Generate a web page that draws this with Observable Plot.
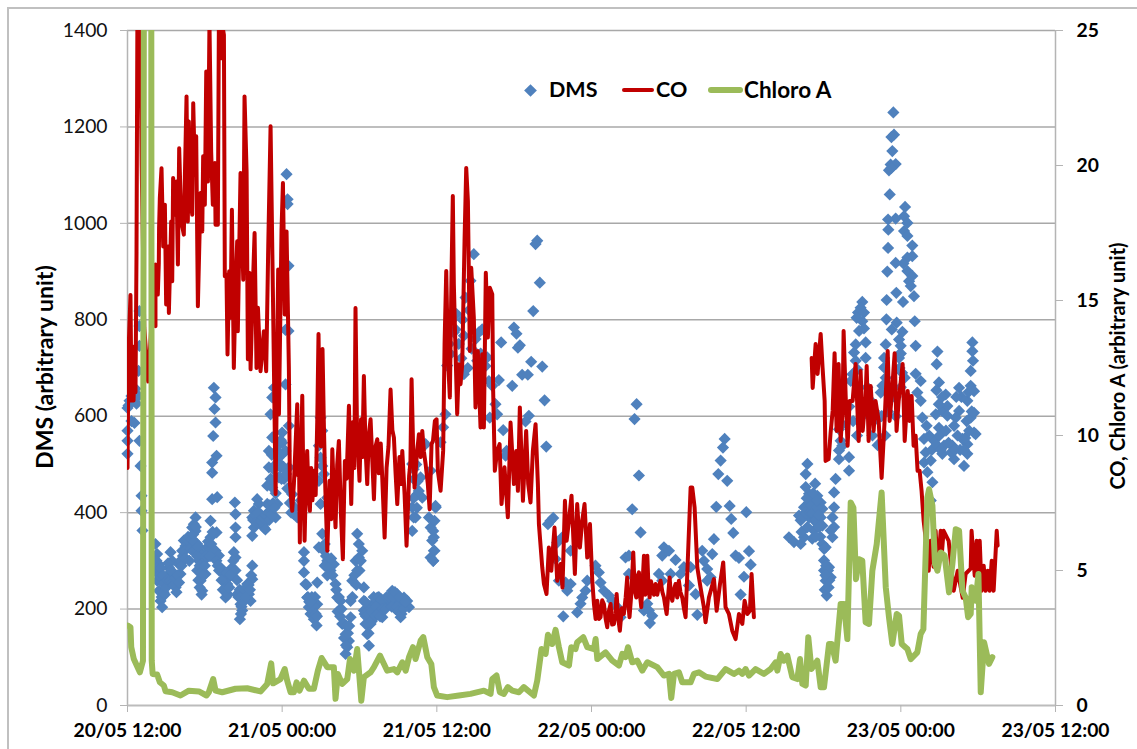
<!DOCTYPE html>
<html><head><meta charset="utf-8">
<script src="https://cdn.jsdelivr.net/npm/d3@7"></script>
<script src="https://cdn.jsdelivr.net/npm/@observablehq/plot@0.6"></script>
<style>
html,body{margin:0;padding:0;background:#fff;overflow:hidden}
#wrap{position:relative;width:1137px;height:749px;font-family:Lato,"Open Sans",sans-serif;color:#000}
#frame{position:absolute;left:7px;top:7px;right:-5px;bottom:-5px;border-left:2px solid #c0c0c0;border-top:2px solid #c0c0c0}
#chart{position:absolute;left:0;top:0}
.t{position:absolute;white-space:nowrap;font-weight:700}
.rot{transform:translate(-50%,-50%) rotate(-90deg)}
.sw{position:absolute;border-radius:3px}
</style></head><body>
<div id="wrap"><div id="frame"></div><div id="chart"></div></div>
<script>
// x values: hours after 20/05 12:00
const xTickHours=[0,12,24,36,48,60,72];
const xTickLabels=["20/05 12:00","21/05 00:00","21/05 12:00","22/05 00:00","22/05 12:00","23/05 00:00","23/05 12:00"];
const leftTicks=[0,200,400,600,800,1000,1200,1400];
const rightTicks=[0,5,10,15,20,25];
const dmsMax=1400, coMax=25;

const dmsReadings=[[0,522],[0,549],[0,570],[0,617],[.08,622],[.16,632],[.31,642],[.47,653],[.62,657],[.31,590],[.54,586],[.7,626],[.85,642],[.85,694],[.93,746],[.93,787],[.93,818],[.93,549],[1.01,497],[1.09,435],[1.09,404],[1.16,363],
[2.17,335],[2.3,314],[2.43,293],[2.17,280],[2.3,259],[2.56,259],[2.69,238],[2.56,217],[2.69,204],[2.82,252],[2.43,238],
[2.95,266],[3.21,286],[3.34,318],[3.47,300],[3.21,273],[3.6,273],[3.86,252],[4.11,273],[3.73,245],[3.98,293],[4.24,321],[4.37,342],[4.5,331],[4.76,328],[4.89,349],[5.02,369],[5.28,390],[5.15,376],[5.28,362],[5.41,335],[5.67,318],
[5.54,300],[5.41,280],[5.67,259],[5.8,238],[6.05,273],[5.92,300],[6.18,328],[6.44,349],[6.31,321],[6.83,321],[7.09,311],[7.22,286],[7.48,273],[7.74,252],[7.61,224],[7.87,266],[8.12,286],[8.38,280],
[6.7,659],[6.83,639],[6.75,615],[6.83,587],[6.65,559],[6.91,518],[6.57,504],[6.57,483],[6.57,428],[6.96,432],[6.44,383],[6.91,359],
[8.51,231],[8.9,238],[9.29,252],[9.68,262],[9.42,231],[9.55,217],[8.77,210],[8.9,197],[8.72,179],[9.68,290],[8.38,307],[8.25,318],[8.38,349],[8.38,369],[8.38,397],[8.33,421],
[9.68,352],[9.81,369],[9.68,390],[9.81,404],[10.06,428],[10.19,418],[10.32,397],[10.58,369],[10.84,383],[11.1,404],[11.49,390],[10.84,418],[11.62,418],[11.23,452],[10.84,456],[10.97,494],[11.75,473],[11.87,494],[12,521],[11.75,542],[12,566],[12.52,580],[12,545],[12.26,528],[12.52,494],[12.78,438],[12.91,397],[13.17,390],[10.97,528],[11.23,556],[11.1,604],[11.23,639],[11.36,659],[12.26,666],[13.43,425],
[12.34,1102],[12.42,1050],[12.42,1040],[12.49,912],[12.26,779],[12.49,777],
[13.69,318],[13.69,300],[13.69,276],[13.81,252],[13.94,224],[14.07,204],[14.2,190],[14.46,179],[14.67,166],[14.72,210],[14.72,255],[14.85,328],[15.11,356],[15.24,321],[15.5,300],[15.75,280],[16.01,293],[16.14,252],[16.27,224],[16.4,197],[16.66,169],[16.92,148],[17.18,134],[16.92,107],[17.05,121],[17.31,183],[17.31,217],[17.44,259],[17.82,280],[17.95,307],[18.21,321],[17.82,356],[17.95,335],[18.34,245],[18.34,217],[18.6,197],[18.86,169],[18.6,148],[18.73,124],[19.12,190],[19.38,224],[19.77,183],[19.9,210],[20.54,238],[20.15,210],[20.93,231],[21.19,183],[21.32,210],[21.7,217],[21.84,204],[20.67,217],[19.51,197],[18.99,210],[16.53,217],[18.34,197],[18.47,169],[18.86,197],[19.25,210],[19.64,210],[20.41,217],[21.06,217],[21.45,224],
[14.98,597],[15.11,570],[14.85,539],[15.11,497],[14.85,466],[14.98,418],[15.5,431],[15.24,480],[14.98,514],
[22.09,501],[22.35,466],[22.48,438],[22.09,411],[22.35,390],[22.09,362],[22.74,473],[23.39,390],[23.52,369],[23.64,342],[23.77,321],[23.72,300],[23.9,411],[23.13,542],[23.52,487],[22.87,431],
[23.51,307],[23.72,300],[23.82,321],[23.77,349],[23.9,411],[23.82,383],[23.72,362],
[23.9,414],[24.29,546],[24.49,577],[24.67,604],[25.53,812],[25.32,774],[25.06,729],[24.8,705],[26.1,767],[26.1,687],[26.23,846],[26.61,881],[26.87,936],[27.26,774],[27.52,780],[27.13,715],[27.78,704],[27.91,722],[28.04,673],[28.3,663],[28.81,675],[28.55,625],[28.68,604],[28.11,597],[29.15,571],[28.99,753],[29.98,784],[30.18,771],[30.44,747],[30.29,742],[31.32,713],[32.18,703],[30.62,686],[31.06,686],[29.85,663],[32.36,633],[31.14,601],[30.88,589],[32.49,537],[29.41,528],[29.33,518],[31.79,964],[31.66,957],[31.99,877],[31.48,818],
[39.5,625],[39.34,594],[39.68,477],[39.16,407],[46.33,553],[46.2,535],[46.02,508],[45.84,480],[46.53,466],[45.68,412],[46.72,414],[48.01,401],[46.84,387],
[32.82,383],[33.03,389],[32.62,376],[33.34,338],[33.73,349],[34.38,321],[33.21,304],[33.47,259],[33.99,255],[34.38,252],[34.12,238],[35.67,259],[35.54,238],[35.28,224],[35.15,211],[34.89,193],[33.81,185],[36.31,290],[36.57,276],[36.7,255],[36.96,238],[37.35,228],[37.61,217],[38,204],[38.26,183],[38.9,273],[38.64,307],[38.9,311],[39.81,359],
[40.07,197],[40.45,197],[40.71,186],[40.53,171],[40.33,211],[41.62,328],[42.01,321],[41.49,311],[42.52,302],[41.23,273],[41.49,259],[42.14,273],[42.91,273],[43.17,287],[43.69,287],[43.56,249],[44.08,231],[44.21,188],[44.59,321],[44.72,300],[45.37,314],[45.5,345],[44.98,283],[44.98,259],[45.24,266],[47,358],[47.18,311],[47.44,306],[48.35,292],[48.22,320],[47.83,267],[47.57,230],
[51.32,349],[51.71,339],[52.23,335],[52.49,349],[52.23,384],[52.1,394],[52.49,411],[52.88,421],[53.26,428],[53.52,435],[53.78,421],[53.91,408],[53.78,390],[53.91,373],[53.26,384],[53.13,346],[53.91,335],[54.17,328],[54.69,349],[54.82,370],[54.69,390],[54.82,411],[54.56,363],[52.75,501],[52.62,480],[52.62,453],[52.88,439],[53.39,411],[52.88,390],[53.26,363],[54.04,301],[54.43,287],[54.04,280],[54.17,259],[54.56,266],[54.3,245],[54.25,228],[54.94,470],[54.82,442],[55.2,511],[55.46,539],[55.98,515],[55.98,487],[55.33,549],[55.2,529],
[57.01,837],[56.88,825],[56.68,815],[57.14,815],[56.57,804],[57.01,797],[56.76,777],[57.14,782],[56.5,749],[57.27,753],[56.37,732],[57.27,721],[56.5,715],[56.24,687],[56.11,673],[56.63,697],[57.66,632],[57.92,611],[58.18,594],[55.46,583],[55.2,573],[56,620],[56.3,590],[56.6,560],[57,600],[57.4,660],[57.8,560],[58.2,540],[58.5,600],[59,610],[59.5,640],[60,660],[60.5,640],
[59.42,1230],[59.47,1184],[59.27,1179],[59.34,1150],[59.6,1123],[59.21,1122],[59.08,1110],[59.27,1115],[59.14,1060],[60.33,1034],[60.25,1015],[59.6,1010],[59.01,1008],[60.51,1001],[59.03,987],[60.25,984],[60.51,974],[60.89,954],[59.01,949],[60.89,932],[60.51,929],[60.2,917],[59.6,918],[60.51,901],[58.95,900],[60.89,891],[60.64,880],[60.77,870],[61.02,849],[59.65,856],[60.17,837],[58.9,841],[58.88,801],[59.68,794],[61.08,797],[60.12,775],[58.83,749],[61.15,746],[59.86,759],[59.99,746],[59.86,728],[58.7,721],[58.7,701],[58.83,680],[58.57,663],[58.44,649],[59.86,721],
[65.55,753],[65.55,735],[65.6,715],[65.42,694],[62.84,734],[62.78,708],[61.15,688],[61.54,673],[62.96,670],[62.76,654],[63.48,645],[61.28,649],[61.54,632],[61.67,597],[62.71,604],[63.22,611],[63.61,621],[64.52,659],[65.42,663],[65.68,652],[65.16,632],[64.52,611],[65.42,597],[65.68,607],[64.26,597],[63.61,601],[62.96,576],[64.13,580],[65.68,566],
[61.8,553],[62.58,549],[61.93,525],[61.8,504],[62.32,508],[62.06,484],[62.45,463],[62.32,425],[63.35,539],[64,539],[64.78,553],[65.16,542],[63.22,522],[64.13,511],[64.9,497],[65.8,563],[65.16,522]];

const dmsClusterReadings=[[2.25,300],[2.35,285],[2.45,270],[2.6,285],[2.65,225],[2.75,270],[2.8,235],[2.9,230],[3,245],[3.1,260],[3.15,295],[3.3,260],[3.4,280],[3.5,255],[3.6,250],[3.7,265],[3.8,235],[3.9,270],[4,255],[4.1,300],[4.2,290],[4.3,310],[4.4,320],[4.5,305],[4.6,345],[4.7,350],[4.8,300],[4.9,325],[5,345],[5.1,355],[5.2,340],[5.3,370],[5.1,320],[5.4,310],
[5.5,330],[5.6,290],[5.7,275],[5.5,260],[5.6,245],[5.75,230],[5.9,270],[6,290],[6.1,310],[6.25,340],[6.4,310],[6.5,335],[6.6,360],[6.9,300],[7,290],[7.1,280],[7.3,260],[7.4,240],[7.55,240],[7.7,275],[7.8,230],[7.9,245],[8,270],[8.2,300],[8.5,260],[8.6,225],[8.7,240],[8.8,225],[8.85,205],[8.8,190],[9,215],[9.1,240],[9.2,225],[9.4,250],[9.5,240],[9.6,270],
[9.75,385],[9.9,395],[10,380],[10.1,400],[10.2,380],[10.4,380],[10.5,390],[10.7,395],[10.7,365],[10.9,400],[11,415],[11,385],[11.2,395],[11.3,420],[11.4,410],[11.5,440],[11.1,470],[11.3,490],[11.4,470],[11.5,500],[11.6,530],[11.7,505],[11.85,520],[11.9,550],[11.95,470],[12.1,495],[12.15,470],[12.3,480],[12.4,450],[12.6,420],[12.7,400],[13,410],[11.2,520],
[13.9,250],[14,225],[14.1,215],[14.3,200],[14.4,195],[14.5,205],[14.55,225],[14.3,225],[14.6,190],[14.7,185],[14.2,215],
[15.3,335],[15.4,310],[15.3,290],[15.6,285],[15.5,270],[15.8,305],[15.9,270],[16.2,240],[16.3,195],[16.4,225],[16.5,185],[16.6,200],[16.8,170],[16.8,140],[17,165],[16.95,125],[17.1,150],[17.2,165],[17.45,225],[17.6,270],[17.7,300],[17.75,250],[18,280],[18.1,300],
[18.4,190],[18.45,215],[18.5,185],[18.6,170],[18.7,150],[18.8,185],[18.95,175],[19,195],[19.1,225],[19.25,185],[19.3,205],[19.4,190],[19.5,225],[19.6,185],[19.7,220],[19.8,200],[20,200],[20.1,225],[20.3,225],[20.5,205],[20.6,225],[20.75,235],[20.8,200],[20.9,205],[21,195],[21.1,225],[21.25,190],[21.4,200],[21.55,215],
[22.2,390],[22.2,430],[22.25,470],[22.4,500],[22.5,465],[22.6,445],[22.2,490],[22.45,410],
[52.3,360],[52.4,390],[52.6,400],[52.7,430],[52.75,370],[52.95,400],[53.05,415],[53.15,400],[53.2,440],[53.4,385],[53.5,410],[53.6,395],[53.65,370],[53.75,350],[53.4,350],[53.5,425],[53.35,460],
[54.05,325],[54.2,290],[54.3,265],[54.35,280],[54.1,240],[54.4,245],[54.45,260],[54.15,270],
[58.8,560],[59.3,780],[59.9,700],[60,730],[60.1,690],[59.6,600],[60.3,680],
[62,580],[62.2,560],[62.4,530],[62.8,540],[63,560],[63.1,530],[63.5,570],[63.7,545],[63.9,525],[64.2,530],[64.4,560],[64.6,530],[64.9,530],[65,555],[65.1,590],[65.3,570],[65.5,610],[65.25,650],[62.95,625],[63.2,640],[64.7,640],[64.3,640],
[24.95,750],[25.2,800],[25.45,780],[25.7,750],[25.9,720],[26,800],[26.4,700],[26.5,820],[26.7,740],[27,760],[27.4,730]];

const coEarly=[[0,8.8],[.08,13.1],[.23,15.2],[.31,11.3],[.39,13.3],[.47,11.3],[.54,12.8],[.62,11.6],[.7,16.8],[.78,27],[.95,27],[1.1,20],[1.3,14],[1.6,12],[1.9,14.5],
[2.17,14.05],[2.17,16.33],[2.35,15.22],[2.43,16.39],[2.45,17.69],[2.51,18.8],[2.64,19.9],[2.77,17],[2.9,18.55],[3,14.85],[3.16,17],[3.21,14.54],[3.39,17.93],[3.47,15.71],[3.54,19.54],[3.73,18.18],[3.8,19.41],[3.91,16.33],[4.01,20.64],[4.17,17.93],[4.37,17.44],[4.45,19.54],[4.58,22.56],[4.68,17.93],[4.76,21.63],[4.89,18.3],[4.94,20.89],[5.02,18.18],[5.1,22.31],[5.23,19.66],[5.33,21.08],[5.46,14.79],[5.56,16.82],[5.67,18.98],[5.8,17.56],[5.87,20.34],[6,18.55],[6.11,23.48],[6.24,19.41],[6.36,25.3],[6.49,20.52],[6.62,18.55],[6.78,20.09],[6.83,17.81],[7.01,17.81],[7.09,25.3],[7.22,23.97],[7.32,25.3],[7.48,24.84],[7.55,15.9],[7.68,15.96],[7.76,13],[7.89,16.08],[7.99,14.36],[8.1,18.36],[8.25,12.5],[8.38,15.34],[8.51,17.19],[8.56,13.86],[8.77,19.72],[8.98,15.77],[9.08,22.56],[9.24,19.78],[9.34,12.82],[9.47,16.02],[9.55,12.45],[9.73,15.59],[9.86,17.5],[10.01,12.5],[10.12,14.73],[10.32,12.38],[10.58,13.86],[10.76,12.38],[10.92,17],[11.1,21.45],[11.28,15.34],[11.36,12.5],[11.49,7.83],[11.69,16.15],[11.75,10.79],[11.87,14.85],[11.95,17.62],[12.06,19.35],[12.2,14.48],[12.34,17.56],[12.52,12.5],
[12.6,8.2],[12.78,7.21],[12.91,8.2],[13.17,11.16],[13.25,8.5],[13.3,9.5],[13.37,6.04],[13.45,9],[13.56,11.47],[13.65,8],[13.74,6.1],[13.85,8.5],[13.94,9.43],[14.05,7.8],[14.15,7.21],[14.25,8.8],[14.35,7.6],[14.46,8.69],[14.6,7.8],[14.72,10.5],[14.82,13.76],[14.9,11.2],[15,9.6],[15.13,13.2],[15.24,10.3],[15.35,8],[15.5,5.73],[15.6,7.2],[15.68,8.32],[15.8,6.9],[15.89,9.49],[16,8],[16.14,6.6],[16.27,8.9],[16.4,9.8],[16.55,7.2],[16.71,5.42],[16.8,7.6],[16.87,9.06],[17,8.4],[17.18,11.1],[17.28,9],[17.36,7.46],[17.5,10.5],[17.6,8.8],[17.69,14.72],[17.8,10.5],[18,8.32],[18.12,10.6],[18.22,9.2],[18.34,12.2],[18.47,9.5],[18.6,8.2],[18.72,10],[18.86,10.6],[19,9],[19.12,7.64],[19.25,9.6],[19.38,9.86],[19.5,8.6],[19.65,9.7],[19.77,8.38],[19.95,6.22],[20.1,8.8],[20.25,9.6],[20.41,11.7],[20.55,10.2],[20.67,9.92],[20.8,8.6],[20.93,7.46],[21.1,9.2],[21.2,8.2],[21.32,9.43],[21.5,7.8],[21.65,5.92],[21.85,8.5],[21.95,9],[22.04,12.08],[22.15,9.8],[22.27,8.07],[22.45,9.3],[22.61,10.05],[22.75,9.2],[22.87,10.17],[23,9.4],[23.13,8.94],[23.3,8.2],[23.44,7.27],
[23.59,9.68],[23.7,9.8],[23.85,10.54],[23.98,10.6],[24.08,8.69],[24.29,7.95],[24.49,9.43],[24.6,13.38],[24.73,16.09],[24.86,12.89],[25.01,11.41],[25.14,15.97],[25.24,18.87],[25.32,15.6],[25.45,13.13],[25.58,10.79],[25.71,12.64],[25.84,11.9],[25.97,12.64],[26.15,17.2],[26.28,19.91],[26.41,18.68],[26.56,13.13],[26.67,16.21],[26.87,14.37],[27,11.04],[27.18,13.13],[27.39,10.3],[27.52,13.01],[27.65,10.3],[27.8,16.03],[27.96,13.63],[28.11,15.47],[28.3,15.23],[28.37,11.65],[28.5,8.69],[28.68,9.43],[28.87,9.68],[29.02,7.46],[29.25,8.82],[29.51,6.97],[29.72,10.48],[29.98,8.2],[30.16,9.43],[30.29,7.95],[30.44,11.04],[30.68,7.58],[30.93,10.17],[31.09,8.2],[31.27,7.52],[31.45,9.43],[31.66,10.42],[31.84,8.2],
[31.92,6.72],[32.18,5.11],[32.31,4.5],[32.51,4.13],[32.69,5.85],[32.88,4.99],[33.13,6.59],[33.34,4.62],[33.6,5.24],[33.75,4.37],[33.94,7.58],[34.07,6.1],[34.25,6.84],[34.45,7.77],[34.71,4.87],[34.89,7.46],[35.1,5.85],[35.28,6.84],[35.46,7.46],[35.67,5.48],[35.88,6.72],[36.06,4.62],[36.19,3.76],[36.32,3.2],[36.45,3.88],[36.58,3.2],[36.7,3.27],[36.83,3.9],[36.96,3.76],[37.1,3.2],[37.22,2.9],[37.35,3.5],[37.48,3.76],[37.6,3],[37.74,3.02],[37.85,3.4],[37.95,4.13],[38.08,3.2],[38.2,2.77],[38.35,3.6],[38.51,3.39],[38.65,4],[38.77,4.74],[38.85,3.8],[38.95,3.27],[39.1,4.2],[39.24,5.67],[39.35,4.3],[39.47,4],[39.58,4.8],[39.68,4.93],[39.78,4],[39.86,3.64],[39.97,4.6],[40.07,5.55],[40.17,4.1],[40.25,4.5],[40.33,5.55],[40.43,4.3],[40.51,4],[40.62,4.6],[40.71,4.37],[40.85,4.1],[40.97,4.5],[41.1,4.1],[41.22,4.4],[41.36,4.62],[41.5,4.2],[41.62,4],[41.72,3.7],[41.83,3.39],[41.95,4.1],[42.06,4.74],[42.16,4.1],[42.27,3.88],[42.4,4.3],[42.52,4.5],[42.65,4],[42.78,4.62],[42.9,4.2],[43.04,4],[43.17,3.6],[43.3,3.27],[43.69,8.07],[43.82,8.07],[44,7.33],[44.21,5.11],[44.46,4.37],[44.72,3.64],[44.85,3.08],[45.11,4],[45.5,4.68],[45.71,3.51],[45.97,4.5],[46.22,5.3],[46.4,3.64],[46.66,3.39],[46.92,2.77],[47.18,2.46],[47.44,3.39],[47.7,3.02],[47.88,3.88],[48.09,3.39],[48.29,3.51],[48.42,4.87],[48.6,3.27]];

const coLate=[[53.08,12.87],[53.16,11.76],[53.39,13.39],[53.54,12.28],[53.78,13.76],[53.93,12.5],[54.09,11.28],[54.16,9.06],[54.4,9.13],[54.55,10.1],[54.71,10.91],[54.86,13.05],[55.02,10.17],[55.17,12.65],[55.33,9.8],[55.48,10.91],[55.56,13.87],[55.72,11.46],[55.87,9.62],[56.03,11.28],[56.26,11.28],[56.49,12.65],[56.73,9.8],[56.88,12.39],[57.04,10.17],[57.27,11.46],[57.35,12.57],[57.5,9.8],[57.66,11.83],[57.89,10.17],[58.04,11.28],[58.28,10.54],[58.51,8.43],[58.74,10.54],[58.98,13.13],[59.13,10.54],[59.29,11.46],[59.52,13.05],[59.67,10.17],[59.83,11.28],[60.14,12.65],[60.3,9.8],[60.53,11.65],[60.68,10.54],[60.84,11.46],[60.99,9.62],[61.15,9.99],[61.3,8.69],[61.46,8.69],[61.61,7.95],[61.77,6.84],[61.92,6.21],[62.16,4.99],[62.31,6.1],[62.54,5.14],[62.7,6.47],[62.86,4.99],[63.09,6.47],[63.17,5.55],[63.32,6.47],[63.71,6.1],[64.1,4.25],[64.41,4.99],[64.8,3.99],[65.03,4.88],[65.42,5.07],[65.49,6.47],[65.73,4.81],[65.88,6.1],[66.04,4.99],[66.12,6.1],[66.27,4.25],[66.43,5.18],[66.58,4.25],[66.74,4.99],[66.89,4.25],[67.05,5.36],[67.2,4.25],[67.36,5.73],[67.44,6.47],[67.51,5.92]];

const chloroA=[[.03,2.96],[.23,2.9],[.29,2.16],[.49,1.72],[.96,1.23],[1.2,1.66],[1.28,30],[1.84,30],[1.88,1.66],[1.95,1.17],[2.3,1.15],[2.51,.86],[2.82,.74],[2.95,.53],[3.47,.49],[4.11,.37],[4.76,.55],[5.54,.52],[6.13,.37],[6.31,.49],[6.65,.98],[6.83,.55],[7.35,.49],[8.38,.62],[9.29,.64],[10.32,.52],[10.84,.8],[11.15,1.56],[11.3,.82],[11.87,.98],[12.2,1.35],[12.39,.92],[12.65,.49],[12.91,.49],[13.12,.86],[13.35,.55],[13.69,.92],[14.07,.62],[14.46,.62],[14.77,1.29],[15.06,1.76],[15.5,1.42],[16.01,1.42],[16.14,.25],[16.32,1.17],[16.66,.8],[17.05,.98],[17.26,1.72],[17.57,1.29],[17.82,2.09],[18.14,.18],[18.34,1.05],[18.86,1.23],[19.12,1.42],[19.59,1.85],[19.9,1.54],[20.15,1.29],[20.67,1.35],[20.93,1.23],[21.32,1.6],[21.58,1.29],[21.84,1.79],[22.15,2.16],[22.35,1.72],[22.74,2.4],[22.95,2.53],[23.26,1.79],[23.57,1.54],[23.77,.68],[24.03,.37],[24.8,.31],[25.71,.37],[26.61,.43],[27.65,.55],[28.17,.43],[28.3,.98],[28.63,1.11],[28.89,.49],[29.2,.43],[29.51,.68],[29.85,.55],[30.37,.49],[30.75,.68],[31.53,.37],[31.79,.92],[32.12,2.09],[32.44,1.91],[32.62,2.62],[32.95,2.28],[33.21,2.8],[33.47,2.16],[33.73,1.6],[34.25,1.48],[34.43,2.16],[34.76,2.09],[34.89,2.34],[35.36,2.53],[35.67,2.16],[36.19,2.09],[36.32,2.46],[36.45,1.72],[37.09,1.97],[37.61,1.66],[38.13,1.48],[38.39,1.91],[38.64,1.79],[38.83,2.16],[39.16,1.6],[39.55,1.66],[39.94,1.29],[40.33,1.6],[41.1,1.42],[41.62,1.11],[42.01,1.17],[42.19,.28],[42.4,1.17],[42.78,1.23],[43.04,.86],[43.69,.86],[43.95,1.17],[44.34,1.23],[44.85,1.07],[45.76,.98],[46.4,1.35],[47.05,1.17],[47.44,1.29],[47.7,1.17],[47.96,1.35],[48.22,1.11],[48.73,1.35],[49.38,1.17],[49.9,1.35],[50.29,1.6],[50.42,1.29],[50.68,1.91],[50.93,1.66],[51.19,1.85],[51.58,1.05],[51.97,.98],[52.18,1.72],[52.36,.8],[52.62,.74],[52.82,2.53],[53.06,1.35],[53.52,1.66],[53.78,.68],[54.04,.68],[54.43,2.28],[54.63,2.28],[54.94,1.66],[55.33,3.76],[55.59,3.76],[55.85,2.46],[56.11,7.52],[56.32,7.33],[56.52,4.68],[56.76,5.42],[57.01,5.36],[57.27,3.08],[57.53,3.02],[57.79,4.99],[58.13,5.98],[58.51,7.89],[58.83,4.38],[59.08,3.27],[59.34,2.28],[59.68,3.39],[59.86,3.33],[60.07,2.28],[60.51,2.09],[60.77,1.72],[61.28,1.97],[61.54,2.65],[61.75,2.83],[62.06,7.7],[62.19,8.01],[62.45,7.4],[62.65,5.24],[62.84,4.99],[63.09,5.67],[63.4,5.55],[63.74,4.19],[64,5.24],[64.26,6.53],[64.52,6.47],[64.78,4.25],[65.03,4],[65.22,3.27],[65.42,3.39],[65.5,4.38],[65.81,3.88],[66.02,4.87],[66.2,.49],[66.46,2.34],[66.84,1.54],[67.1,1.79]];

const toLeft=v=>v*dmsMax/coMax;
const axisGrey="#b4b4b4", gridGrey="#a8a8a8";
const plot=Plot.plot({
  width:1137,height:749,marginLeft:127,marginRight:82,marginTop:30,marginBottom:44,
  style:{background:"transparent",fontFamily:"Lato, sans-serif",overflow:"visible"},
  x:{domain:[0,72],axis:null},
  y:{domain:[0,dmsMax],axis:null},
  marks:[
    Plot.ruleY(leftTicks.filter(d=>d>0),{stroke:gridGrey,strokeWidth:1.5}),
    Plot.ruleX([0,72],{stroke:axisGrey,strokeWidth:1.5}),
    Plot.ruleY([0],{stroke:"#bcbcbc",strokeWidth:2}),
    Plot.axisY({anchor:"left",ticks:leftTicks,tickSize:7,tickPadding:13,label:null,stroke:axisGrey,fill:"#111",fontSize:19.3,tickFormat:d=>String(d)}),
    Plot.axisY({anchor:"right",ticks:rightTicks.map(toLeft),tickSize:7,tickPadding:14,label:null,stroke:axisGrey,fill:"#000",fontSize:19.3,fontWeight:700,tickFormat:d=>String(Math.round(d*coMax/dmsMax))}),
    Plot.axisX({anchor:"bottom",ticks:xTickHours,tickSize:7,tickPadding:11,label:null,stroke:axisGrey,fill:"#000",fontSize:19.3,fontWeight:700,tickFormat:d=>xTickLabels[xTickHours.indexOf(d)]}),
    Plot.dot(dmsReadings.concat(dmsClusterReadings),{x:d=>d[0],y:d=>d[1],symbol:"diamond2",r:5.5,fill:"#4f81bd",stroke:"none"}),
    Plot.line(coEarly,{x:d=>d[0],y:d=>toLeft(d[1]),stroke:"#c00000",strokeWidth:4,curve:"linear",clip:"frame"}),
    Plot.line(coLate,{x:d=>d[0],y:d=>toLeft(d[1]),stroke:"#c00000",strokeWidth:4,curve:"linear",clip:"frame"}),
    Plot.line(chloroA,{x:d=>d[0],y:d=>toLeft(d[1]),stroke:"#9bbb59",strokeWidth:6,curve:"linear",clip:"frame"})
  ]
});
document.getElementById("chart").appendChild(plot);

const wrap=document.getElementById("wrap");
function label(text,css,cls){const e=document.createElement("div");e.className="t "+(cls||"");e.textContent=text;e.style.cssText=css;wrap.appendChild(e);}
label("DMS (arbitrary unit)","left:44px;top:367px;font-size:23px","rot");
label("CO, Chloro A (arbitrary unit)","left:1117px;top:366px;font-size:20px","rot");
label("DMS","left:549px;top:76px;font-size:21.5px");
label("CO","left:656px;top:76px;font-size:21.5px");
label("Chloro A","left:744px;top:76px;font-size:22.5px");
function swatch(css){const e=document.createElement("div");e.className="sw";e.style.cssText=css;wrap.appendChild(e);}
swatch("left:622px;top:88px;width:32px;height:4px;background:#c00000");
swatch("left:708px;top:87px;width:35px;height:6px;background:#9bbb59");
swatch("left:526px;top:86px;width:9px;height:9px;background:#4f81bd;border-radius:0;transform:rotate(45deg)");
</script>
</body></html>
